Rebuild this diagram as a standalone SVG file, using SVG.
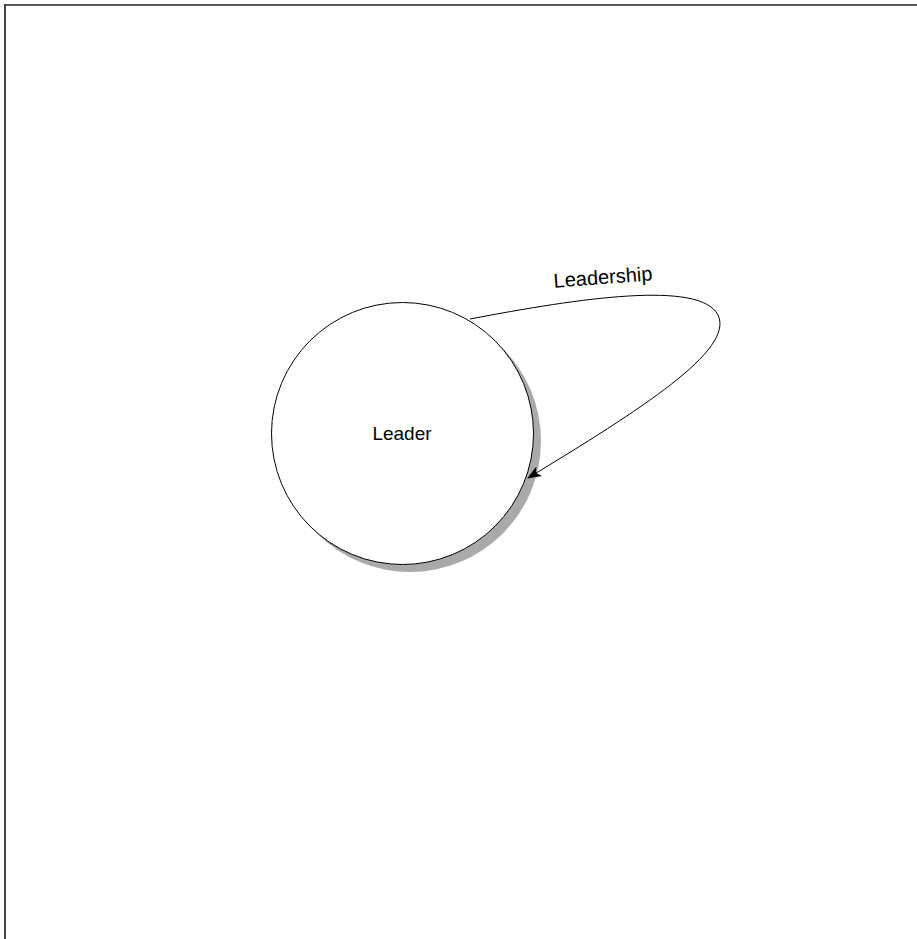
<svg xmlns="http://www.w3.org/2000/svg" width="917" height="939" viewBox="0 0 917 939">
  <style>
    .lbl { font-family: "Liberation Sans", Arial, Helvetica, sans-serif; font-size: 19px; fill: #000; }
    .edge { fill: none; stroke: #000; stroke-width: 1; }
  </style>
  <defs>
    <marker id="arrow" viewBox="0 0 14 11" refX="13" refY="5.5" markerWidth="14" markerHeight="11" markerUnits="userSpaceOnUse" orient="auto">
      <path d="M0,0 L14,5.5 L0,11 L3.5,5.5 Z" fill="#000"/>
    </marker>
  </defs>
  <rect width="917" height="939" fill="#fff"/>
  <g id="frame">
    <line x1="4" y1="5" x2="917" y2="5" stroke="#222" stroke-width="1.5"/>
    <line x1="5" y1="4" x2="5" y2="939" stroke="#444" stroke-width="2"/>
  </g>
  <g id="leader">
    <circle cx="410" cy="441" r="131" fill="#aaa"/>
    <circle cx="402.5" cy="433.5" r="131" fill="#fff" stroke="#000" stroke-width="1"/>
    <text class="lbl" x="402" y="440" text-anchor="middle">Leader</text>
  </g>
  <g id="connectors">
    <path class="edge" d="M470,319 C580,298 700,280 718,315 C735,350 640,410 528,478" marker-end="url(#arrow)"/>
    <text class="lbl" x="603" y="284" text-anchor="middle" style="font-size:20px" transform="rotate(-4.3 603 278)">Leadership</text>
  </g>
</svg>
